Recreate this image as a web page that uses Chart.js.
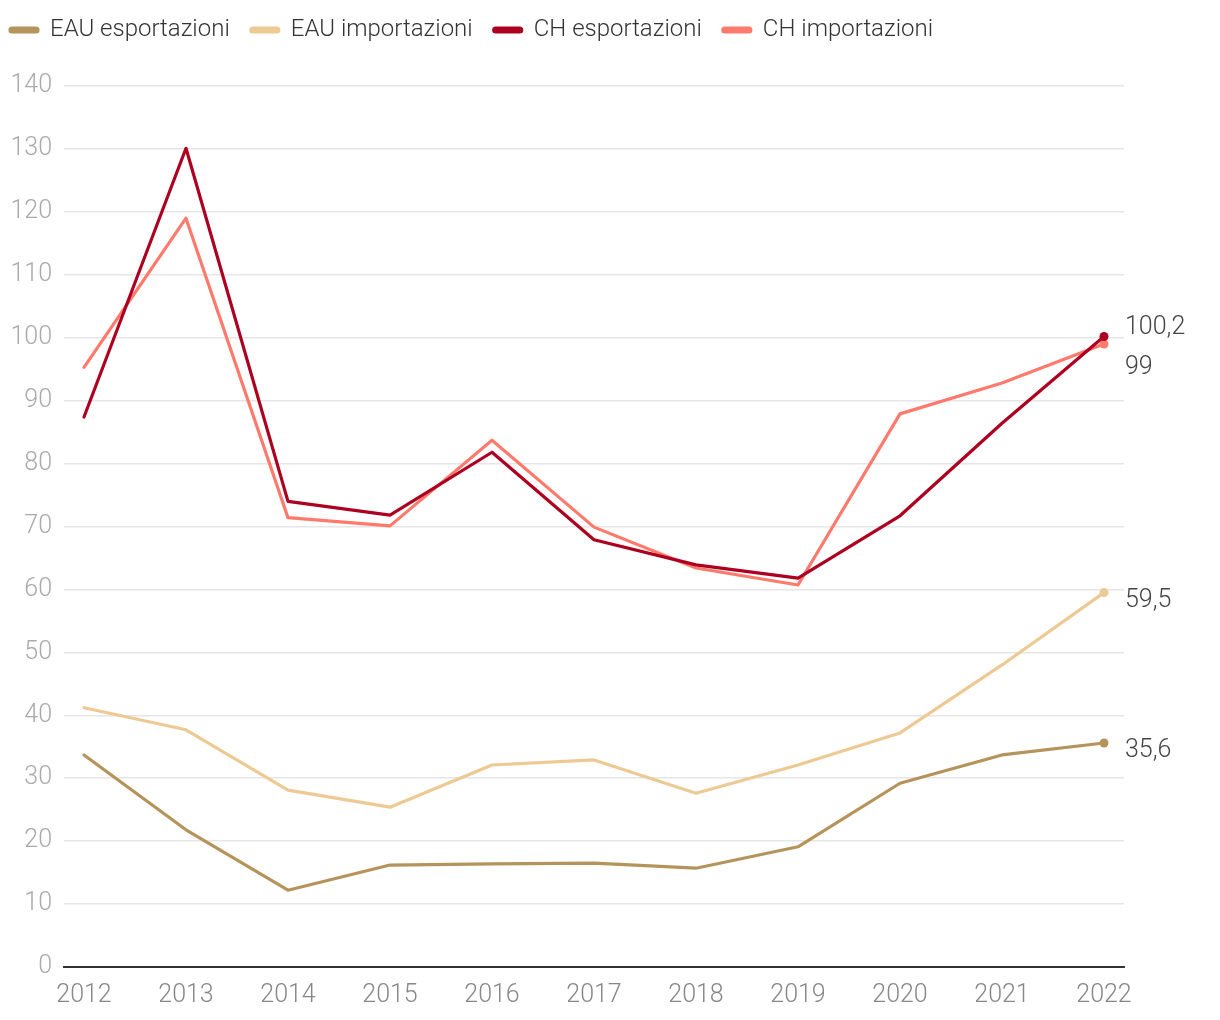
<!DOCTYPE html>
<html><head><meta charset="utf-8">
<script src="https://cdn.jsdelivr.net/npm/chart.js@4.4.1/dist/chart.umd.min.js"></script>
<style>html,body{margin:0;padding:0;background:#fff;}#wrap{width:1220px;height:1020px;}</style>
</head><body><div id="wrap"><canvas id="c" width="1220" height="1020"></canvas></div>
<script>
const years = [2012,2013,2014,2015,2016,2017,2018,2019,2020,2021,2022];
const eauExport = [33.7,21.8,12.2,16.2,16.4,16.5,15.7,19.1,29.2,33.7,35.6];
const eauImport = [41.2,37.7,28.1,25.4,32.1,32.9,27.6,32.1,37.2,48.0,59.5];
const chExport = [87.4,130.1,74.0,71.8,81.8,67.9,63.9,61.8,71.7,86.4,100.2];
const chImport = [95.3,119.0,71.4,70.1,83.7,69.9,63.4,60.7,87.9,92.8,99.0];
const endLabels = ['35,6','59,5','100,2','99'];
const yTicks = [0,10,20,30,40,50,60,70,80,90,100,110,120,130,140];

const FONT = 'Roboto';
function mk(label, vals, color){
  return {label, data: years.map((y,i)=>({x:y,y:vals[i]})), borderColor: color, backgroundColor: color,
    borderWidth: 3.2, pointRadius: vals.map((v,i)=> i===vals.length-1 ? 4.5 : 0), pointHoverRadius:0,
    pointBorderWidth:0, tension:0, borderCapStyle:'round', borderJoinStyle:'round'};
}
const endLabelPlugin = {
  id:'endLabels',
  beforeInit(chart){
    const lg = chart.legend;
    if(lg){
      const of = lg.fit, od = lg.draw;
      lg.fit = function(){ of.call(this); this.height = 86; };
      lg.draw = function(){ const c=this.ctx; c.save(); c.translate(-11,-3); od.call(this); c.restore(); };
    }
  },
  afterDatasetsDraw(chart){
    const ctx = chart.ctx;
    ctx.save();
    ctx.font = '300 25px ' + FONT;
    ctx.fillStyle = '#444';
    ctx.textBaseline = 'middle';
    ctx.textAlign = 'left';
    const offsets = [8,8,-9,24];
    chart.data.datasets.forEach((ds,i)=>{
      const meta = chart.getDatasetMeta(i);
      const p = meta.data[meta.data.length-1];
      ctx.fillText(endLabels[i], p.x + 21, p.y + offsets[i]);
    });
    ctx.restore();
  }
};
new Chart(document.getElementById('c'), {
  type:'line',
  data:{ datasets:[
    mk('EAU esportazioni', eauExport, '#b5945c'),
    mk('EAU importazioni', eauImport, '#edc993'),
    mk('CH esportazioni', chExport, '#ad0020'),
    mk('CH importazioni', chImport, '#ff7a6c')
  ]},
  options:{
    responsive:false, animation:false, devicePixelRatio:1,
    layout:{padding:{left:0,right:96,top:0,bottom:0}},
    plugins:{
      tooltip:{enabled:false},
      legend:{position:'top', align:'start',
        labels:{boxWidth:28, boxHeight:4, padding:21, color:'#333', font:{family:FONT, size:24, weight:300}, useBorderRadius:true, borderRadius:2},
      },
    },
    scales:{
      x:{type:'linear', min:2011.804, max:2022.196,
        afterBuildTicks(s){ s.ticks = years.map(v=>({value:v})); },
        afterFit(s){ s.height = 53; },
        grid:{display:false, drawTicks:false},
        border:{display:true, color:'#333', width:2},
        ticks:{color:'#888', font:{family:FONT, size:25, weight:300}, padding:14, callback:v=>String(v), maxRotation:0, autoSkip:false}
      },
      y:{min:0, max:140,
        afterBuildTicks(s){ s.ticks = yTicks.map(v=>({value:v})); },
        afterFit(s){ s.width = 64; },
        grid:{color:(c)=> c.tick && c.tick.value===0 ? 'rgba(0,0,0,0)' : '#e6e6e6', lineWidth:1.5, drawTicks:false},
        border:{display:false},
        ticks:{color:'#aaa', font:{family:FONT, size:25, weight:300}, padding:12}
      }
    }
  },
  plugins:[endLabelPlugin]
});
</script></body></html>
